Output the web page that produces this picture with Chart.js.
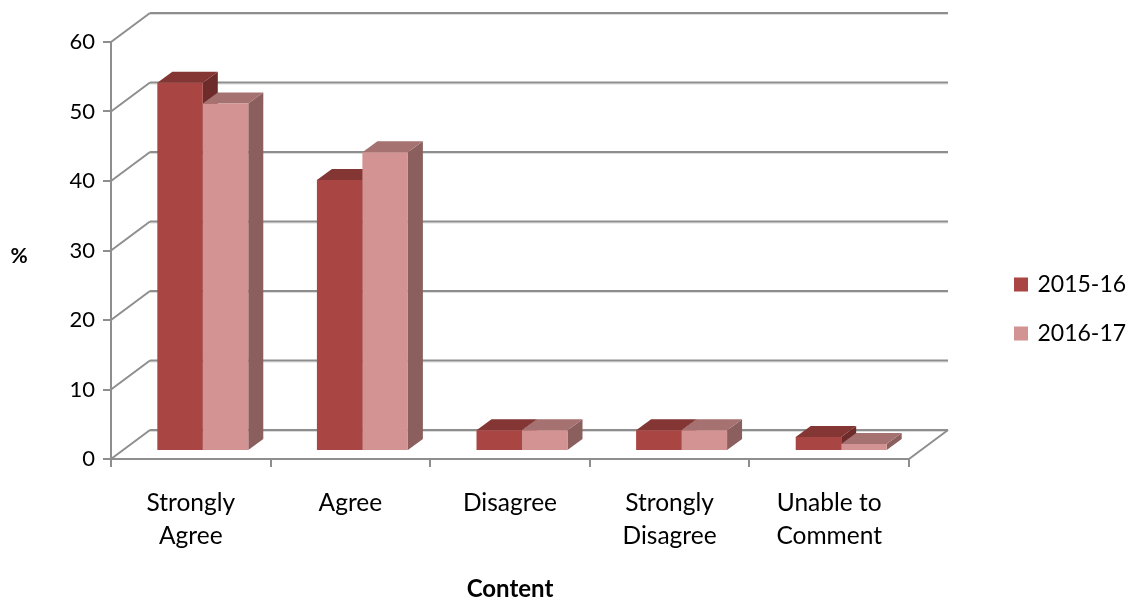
<!DOCTYPE html>
<html>
<head>
<meta charset="utf-8">
<style>
  html, body { margin: 0; padding: 0; background: #fff; }
  canvas { display: block; }
</style>
<script src="https://cdn.jsdelivr.net/npm/chart.js@4/dist/chart.umd.js"></script>
</head>
<body>
<canvas id="chart" width="1134" height="602"></canvas>
<script>
const categories = [['Strongly', 'Agree'], 'Agree', 'Disagree', ['Strongly', 'Disagree'], ['Unable to', 'Comment']];
const series2015 = [53, 39, 3, 3, 2];
const series2016 = [50, 43, 3, 3, 1];
const yTicks = [0, 10, 20, 30, 40, 50, 60];

const FONT = 'Lato, Carlito, Calibri, sans-serif';
const GRID = '#8e8e8e';
const WALL = { dx: 39, dy: -29 };   // depth of the back wall
const BAR_SHIFT = { dx: 12, dy: -8 };   // bars stand in the middle of the floor
const BAR_DEPTH = { dx: 15, dy: -11 };
const FACES = [
    { top: '#833634', side: '#6d2c2a' },
    { top: '#a57271', side: '#8a5f5e' }
];

function line(ctx, x1, y1, x2, y2) {
    ctx.beginPath();
    ctx.moveTo(x1, y1);
    ctx.lineTo(x2, y2);
    ctx.stroke();
}

function poly(ctx, pts, color) {
    ctx.fillStyle = color;
    ctx.beginPath();
    pts.forEach((p, i) => i ? ctx.lineTo(p[0], p[1]) : ctx.moveTo(p[0], p[1]));
    ctx.closePath();
    ctx.fill();
}

// Back wall, left wall and floor lines of the 3D box
const wallPlugin = {
    id: 'walls',
    beforeDatasetsDraw(chart) {
        const ctx = chart.ctx;
        const area = chart.chartArea;
        const y = chart.scales.y;
        ctx.save();
        yTicks.forEach(t => {
            const py = y.getPixelForValue(t);
            ctx.strokeStyle = '#dcdcdc';
            ctx.lineWidth = 1;
            line(ctx, area.left + WALL.dx, py + WALL.dy + 1.5, area.right + WALL.dx, py + WALL.dy + 1.5);
            ctx.strokeStyle = GRID;
            ctx.lineWidth = 2;
            line(ctx, area.left, py, area.left + WALL.dx, py + WALL.dy);
            line(ctx, area.left + WALL.dx, py + WALL.dy, area.right + WALL.dx, py + WALL.dy);
        });
        line(ctx, area.right, area.bottom, area.right + WALL.dx, area.bottom + WALL.dy);
        ctx.restore();
    }
};

// Moves the bars back onto the floor and adds their top and side faces.
// Chart.js paints the last dataset first, so all the extra faces go in before any front.
const barPlugin = {
    id: 'bars3d',
    beforeDatasetsDraw(chart) {
        const ctx = chart.ctx;
        const d = BAR_DEPTH;
        ctx.save();
        ctx.translate(BAR_SHIFT.dx, BAR_SHIFT.dy);
        FACES.forEach((faces, index) => {
            chart.getDatasetMeta(index).data.forEach(bar => {
                const l = bar.x - bar.width / 2;
                const r = bar.x + bar.width / 2;
                poly(ctx, [[r, bar.y], [r + d.dx, bar.y + d.dy], [r + d.dx, bar.base + d.dy], [r, bar.base]], faces.side);
                poly(ctx, [[l, bar.y], [l + d.dx, bar.y + d.dy], [r + d.dx, bar.y + d.dy], [r, bar.y]], faces.top);
            });
        });
        ctx.restore();
    },
    beforeDatasetDraw(chart) {
        chart.ctx.save();
        chart.ctx.translate(BAR_SHIFT.dx, BAR_SHIFT.dy);
    },
    afterDatasetDraw(chart) {
        chart.ctx.restore();
    }
};

// Legend sits far to the right of the plot, with free space in between
const legendPlugin = {
    id: 'legendPlace',
    beforeLayout(chart) {
        const legend = chart.legend;
        if (legend.fit.wrapped) return;
        const fit = legend.fit;
        legend.fit = function () {
            fit.call(this);
            this.width = 225;
        };
        legend.fit.wrapped = true;
    },
    afterLayout(chart) {
        const legend = chart.legend;
        legend.left = 1016 - legend.options.labels.padding;
        legend.right = 1134;
        legend.top -= 13;
        legend.bottom -= 13;
    },
    // the % label stays upright, which a Chart.js axis title can not do
    afterDraw(chart) {
        const ctx = chart.ctx;
        ctx.save();
        ctx.fillStyle = '#000';
        ctx.font = 'bold 21px ' + FONT;
        ctx.textAlign = 'center';
        ctx.textBaseline = 'middle';
        ctx.fillText('%', 19, 256);
        ctx.restore();
    }
};

new Chart(document.getElementById('chart').getContext('2d'), {
    type: 'bar',
    data: {
        labels: categories,
        datasets: [
            { label: '2015-16', data: series2015, backgroundColor: '#a94543', clip: false },
            { label: '2016-17', data: series2016, backgroundColor: '#d39392', clip: false }
        ]
    },
    plugins: [wallPlugin, barPlugin, legendPlugin],
    options: {
        responsive: false,
        animation: false,
        devicePixelRatio: 1,
        layout: { padding: { top: 42, left: 0, right: 0, bottom: 0 } },
        datasets: { bar: { categoryPercentage: 0.57, barPercentage: 1 } },
        plugins: {
            tooltip: { enabled: false },
            legend: {
                position: 'right',
                labels: {
                    boxWidth: 10,
                    boxHeight: 10,
                    padding: 26,
                    color: '#000',
                    font: { family: FONT, size: 23 },
                    // thick same colour outline keeps the swatch 14px wide but the text closer
                    generateLabels(chart) {
                        return Chart.defaults.plugins.legend.labels.generateLabels(chart).map(item => {
                            item.strokeStyle = item.fillStyle;
                            item.lineWidth = 4;
                            return item;
                        });
                    }
                }
            }
        },
        scales: {
            x: {
                afterFit(scale) { scale.height = 143; },
                grid: { drawOnChartArea: false, color: GRID, lineWidth: 2, tickLength: 8 },
                border: { color: GRID, width: 2 },
                ticks: { color: '#000', padding: 19.5, maxRotation: 0, font: { family: FONT, size: 24.5, lineHeight: 1.35 } },
                title: {
                    display: true,
                    text: 'Content',
                    color: '#000',
                    padding: { top: 0, bottom: -2 },
                    font: { family: FONT, size: 24, weight: 'bold' }
                }
            },
            y: {
                min: 0,
                max: 60,
                afterFit(scale) { scale.width = 111; },
                afterBuildTicks(scale) { scale.ticks = yTicks.map(value => ({ value })); },
                grid: { drawOnChartArea: false, color: GRID, lineWidth: 2, tickLength: 8 },
                border: { color: GRID, width: 2 },
                ticks: { color: '#000', padding: 8, font: { family: FONT, size: 22 } }
            }
        }
    }
});
</script>
</body>
</html>
